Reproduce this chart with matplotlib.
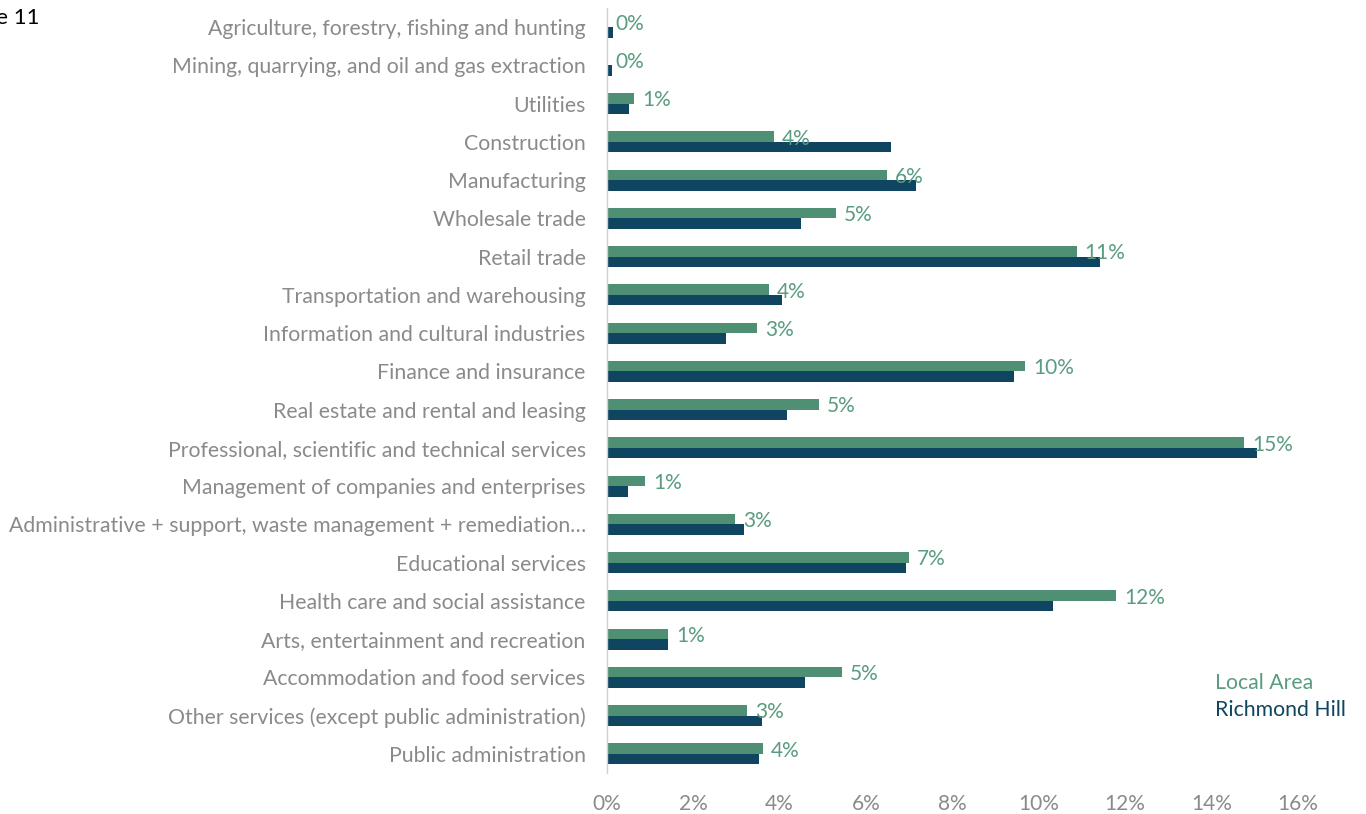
import matplotlib
matplotlib.use("Agg")
import matplotlib.pyplot as plt
from matplotlib.ticker import FuncFormatter, MultipleLocator

plt.rcParams["font.family"] = ["Lato", "DejaVu Sans"]

GREEN = "#4f8f73"
NAVY = "#0f4560"
LABEL_GREEN = "#5a9c80"
TICK_GRAY = "#8a8a8a"

industries = [
    "Agriculture, forestry, fishing and hunting",
    "Mining, quarrying, and oil and gas extraction",
    "Utilities",
    "Construction",
    "Manufacturing",
    "Wholesale trade",
    "Retail trade",
    "Transportation and warehousing",
    "Information and cultural industries",
    "Finance and insurance",
    "Real estate and rental and leasing",
    "Professional, scientific and technical services",
    "Management of companies and enterprises",
    "Administrative + support, waste management + remediation\u2026",
    "Educational services",
    "Health care and social assistance",
    "Arts, entertainment and recreation",
    "Accommodation and food services",
    "Other services (except public administration)",
    "Public administration",
]

# shares of employment, percent
local_area = [0.02, 0.01, 0.64, 3.88, 6.48, 5.30, 10.88, 3.75, 3.49, 9.69,
              4.92, 14.75, 0.90, 2.98, 7.00, 11.80, 1.42, 5.45, 3.26, 3.62]
richmond_hill = [0.16, 0.13, 0.53, 6.59, 7.15, 4.51, 11.42, 4.07, 2.77, 9.44,
                 4.18, 15.05, 0.49, 3.19, 6.94, 10.34, 1.42, 4.60, 3.60, 3.54]

W, H = 1366, 814
fig = plt.figure(figsize=(W / 100, H / 100), dpi=100)
ax = fig.add_axes([606.5 / W, 1 - 773 / H, (1298 - 606.5) / W, (773 - 8) / H])

pos = list(range(len(industries)))
h = 0.275
ax.barh([p - h / 2 for p in pos], local_area, height=h, color=GREEN, zorder=2)
ax.barh([p + h / 2 for p in pos], richmond_hill, height=h, color=NAVY, zorder=2)

# value labels on the local-area bars, just past the bar end
px = 16 / (1298 - 606.5)
for p, v in zip(pos, local_area):
    ax.text(v + 8 * px, p - h / 2 + 0.05, f"{v:.0f}%", color=LABEL_GREEN, fontsize=15,
            va="center", ha="left", zorder=3)

ax.set_xlim(0, 16)
ax.set_ylim(len(industries) - 0.5, -0.5)
ax.set_yticks(pos)
ax.set_yticklabels(industries)
ax.xaxis.set_major_locator(MultipleLocator(2))
ax.xaxis.set_major_formatter(FuncFormatter(lambda x, _: f"{x:.0f}%"))
ax.tick_params(axis="y", length=0, pad=15, labelsize=15.3, labelcolor=TICK_GRAY)
ax.tick_params(axis="x", length=0, pad=15, labelsize=15, labelcolor=TICK_GRAY)

for side in ("top", "right", "bottom"):
    ax.spines[side].set_visible(False)
ax.spines["left"].set_color("#d0d0d0")
ax.spines["left"].set_linewidth(1.0)

fig.text(1215 / W, 1 - 683 / H, "Local Area", color=LABEL_GREEN, fontsize=15.3, va="center")
fig.text(1215 / W, 1 - 710 / H, "Richmond Hill", color=NAVY, fontsize=15.3, va="center")
fig.text(40 / W, 1 - 18 / H, "Figure 11", color="black", fontsize=16, ha="right", va="center")

fig.savefig("out.png", dpi=100, facecolor="white")
